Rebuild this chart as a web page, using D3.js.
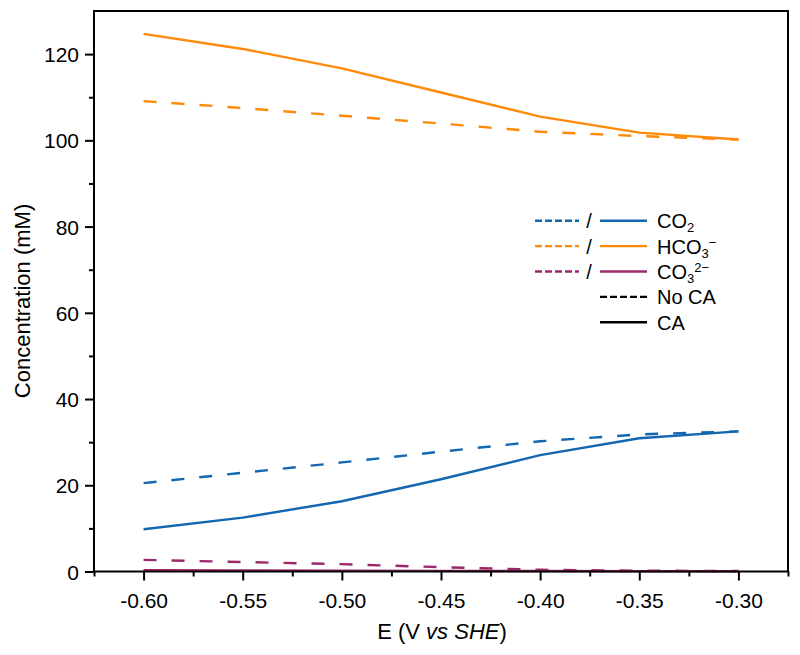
<!DOCTYPE html>
<html>
<head>
<meta charset="utf-8">
<script src="https://cdn.jsdelivr.net/npm/d3@7"></script>
<style>
html,body{margin:0;padding:0;background:#fff;}
svg{display:block;font-family:"Liberation Sans",Arial,sans-serif;}
</style>
</head>
<body>
<svg id="chart" width="800" height="655"></svg>
<script>
// Data
const potentials = [-0.60, -0.55, -0.50, -0.45, -0.40, -0.35, -0.30];
const co2NoCA   = [20.5, 22.9, 25.3, 27.8, 30.2, 31.8, 32.5];
const co2CA     = [9.8, 12.5, 16.3, 21.4, 27.0, 30.9, 32.5];
const hco3NoCA  = [109.1, 107.5, 105.7, 103.9, 102.0, 101.0, 100.2];
const hco3CA    = [124.7, 121.2, 116.7, 111.1, 105.5, 101.8, 100.2];
const co3NoCA   = [2.7, 2.2, 1.7, 1.0, 0.4, 0.2, 0.1];
const co3CA     = [0.3, 0.25, 0.2, 0.15, 0.1, 0.05, 0.05];
const xTicks = [-0.60, -0.55, -0.50, -0.45, -0.40, -0.35, -0.30];
const xMinorTicks = [-0.625, -0.575, -0.525, -0.475, -0.425, -0.375, -0.325, -0.275];
const yTicks = [0, 20, 40, 60, 80, 100, 120];
const yMinorTicks = [10, 30, 50, 70, 90, 110];

const colors = {co2: "#1366b0", hco3: "#ff8a0a", co3: "#9b2a6a"};

const series = [
  {name: "co2", values: co2NoCA, dashed: true},
  {name: "co2", values: co2CA, dashed: false},
  {name: "hco3", values: hco3NoCA, dashed: true},
  {name: "hco3", values: hco3CA, dashed: false},
  {name: "co3", values: co3NoCA, dashed: true},
  {name: "co3", values: co3CA, dashed: false}
];

const svg = d3.select("#chart");
const pL = 94, pR = 788, pT = 11, pB = 571.5;
const x = d3.scaleLinear().domain([-0.625, -0.275]).range([pL, pR]);
const y = d3.scaleLinear().domain([0, 130]).range([pB, pT]);

// axes
const fontSize = 21;
const fmtX = d => d3.format(".2f")(d).replace("−", "-");
const xAxis = svg.append("g").attr("transform", `translate(0,${pB})`)
  .call(d3.axisBottom(x).tickValues(xTicks).tickSize(9).tickPadding(6).tickFormat(fmtX));
const xMinor = svg.append("g").attr("transform", `translate(0,${pB})`)
  .call(d3.axisBottom(x).tickValues(xMinorTicks).tickSize(5).tickFormat(""));
const yAxis = svg.append("g").attr("transform", `translate(${pL},0)`)
  .call(d3.axisLeft(y).tickValues(yTicks).tickSize(9).tickPadding(6).tickFormat(d3.format("d")));
const yMinor = svg.append("g").attr("transform", `translate(${pL},0)`)
  .call(d3.axisLeft(y).tickValues(yMinorTicks).tickSize(5).tickFormat(""));
[xAxis, xMinor, yAxis, yMinor].forEach(g => {
  g.select(".domain").remove();
  g.selectAll(".tick line").attr("stroke", "#000").attr("stroke-width", 2);
  g.selectAll(".tick text").attr("font-size", fontSize).attr("fill", "#000")
    .attr("font-family", "'Liberation Sans', Arial, sans-serif");
});
xAxis.selectAll(".tick text").attr("y", 36.5).attr("dy", null);
yAxis.selectAll(".tick text").attr("dy", "0.36em");

// lines
const line = d3.line().x((d, i) => x(potentials[i])).y(d => y(d));
svg.append("g").selectAll("path").data(series).join("path")
  .attr("d", d => line(d.values))
  .attr("fill", "none")
  .attr("stroke", d => colors[d.name])
  .attr("stroke-width", 2.4)
  .attr("stroke-dasharray", d => d.dashed ? "13,15" : null);

// frame
svg.append("rect").attr("x", pL).attr("y", pT)
  .attr("width", pR - pL).attr("height", pB - pT)
  .attr("fill", "none").attr("stroke", "#000").attr("stroke-width", 2);

// axis titles
svg.append("text").attr("transform", "translate(30,301) rotate(-90)")
  .attr("text-anchor", "middle").attr("font-size", 22).attr("fill", "#000")
  .text("Concentration (mM)");
const xt = svg.append("text").attr("x", 442).attr("y", 638.5)
  .attr("text-anchor", "middle").attr("font-size", 22).attr("fill", "#000");
xt.append("tspan").text("E (V ");
xt.append("tspan").attr("font-style", "italic").text("vs SHE");
xt.append("tspan").text(")");

// legend
const legendRows = [
  {key: "co2", label: [["CO", 0], ["2", -1]]},
  {key: "hco3", label: [["HCO", 0], ["3", -1], ["−", 1]]},
  {key: "co3", label: [["CO", 0], ["3", -1], ["2−", 1]]}
];
const lg = svg.append("g");
const ly0 = 220.7, dy = 25.4, lfs = 20;
legendRows.forEach((r, i) => {
  const yy = ly0 + i * dy;
  lg.append("line").attr("x1", 535).attr("x2", 579).attr("y1", yy).attr("y2", yy)
    .attr("stroke", colors[r.key]).attr("stroke-width", 2.4).attr("stroke-dasharray", "7,3");
  lg.append("text").attr("x", 589).attr("y", yy + 7.5).attr("text-anchor", "middle")
    .attr("font-size", lfs).attr("fill", "#000").text("/");
  lg.append("line").attr("x1", 600).attr("x2", 647).attr("y1", yy).attr("y2", yy)
    .attr("stroke", colors[r.key]).attr("stroke-width", 2.4);
  const t = lg.append("text").attr("x", 657).attr("y", yy + 7.5).attr("font-size", lfs).attr("fill", "#000");
  let prev = 0;
  r.label.forEach(([s, lvl]) => {
    const ts = t.append("tspan").text(s);
    if (lvl !== 0) ts.attr("font-size", 13);
    const shift = lvl === -1 ? 4 : (lvl === 1 ? -7 : 0);
    ts.attr("dy", shift - prev);
    prev = shift;
  });
});
["No CA", "CA"].forEach((s, j) => {
  const yy = ly0 + (3 + j) * dy;
  lg.append("line").attr("x1", 600).attr("x2", 647).attr("y1", yy).attr("y2", yy)
    .attr("stroke", "#000").attr("stroke-width", 2.4).attr("stroke-dasharray", j === 0 ? "7,3" : null);
  lg.append("text").attr("x", 657).attr("y", yy + 7.5).attr("font-size", lfs).attr("fill", "#000").text(s);
});
</script>
</body>
</html>
